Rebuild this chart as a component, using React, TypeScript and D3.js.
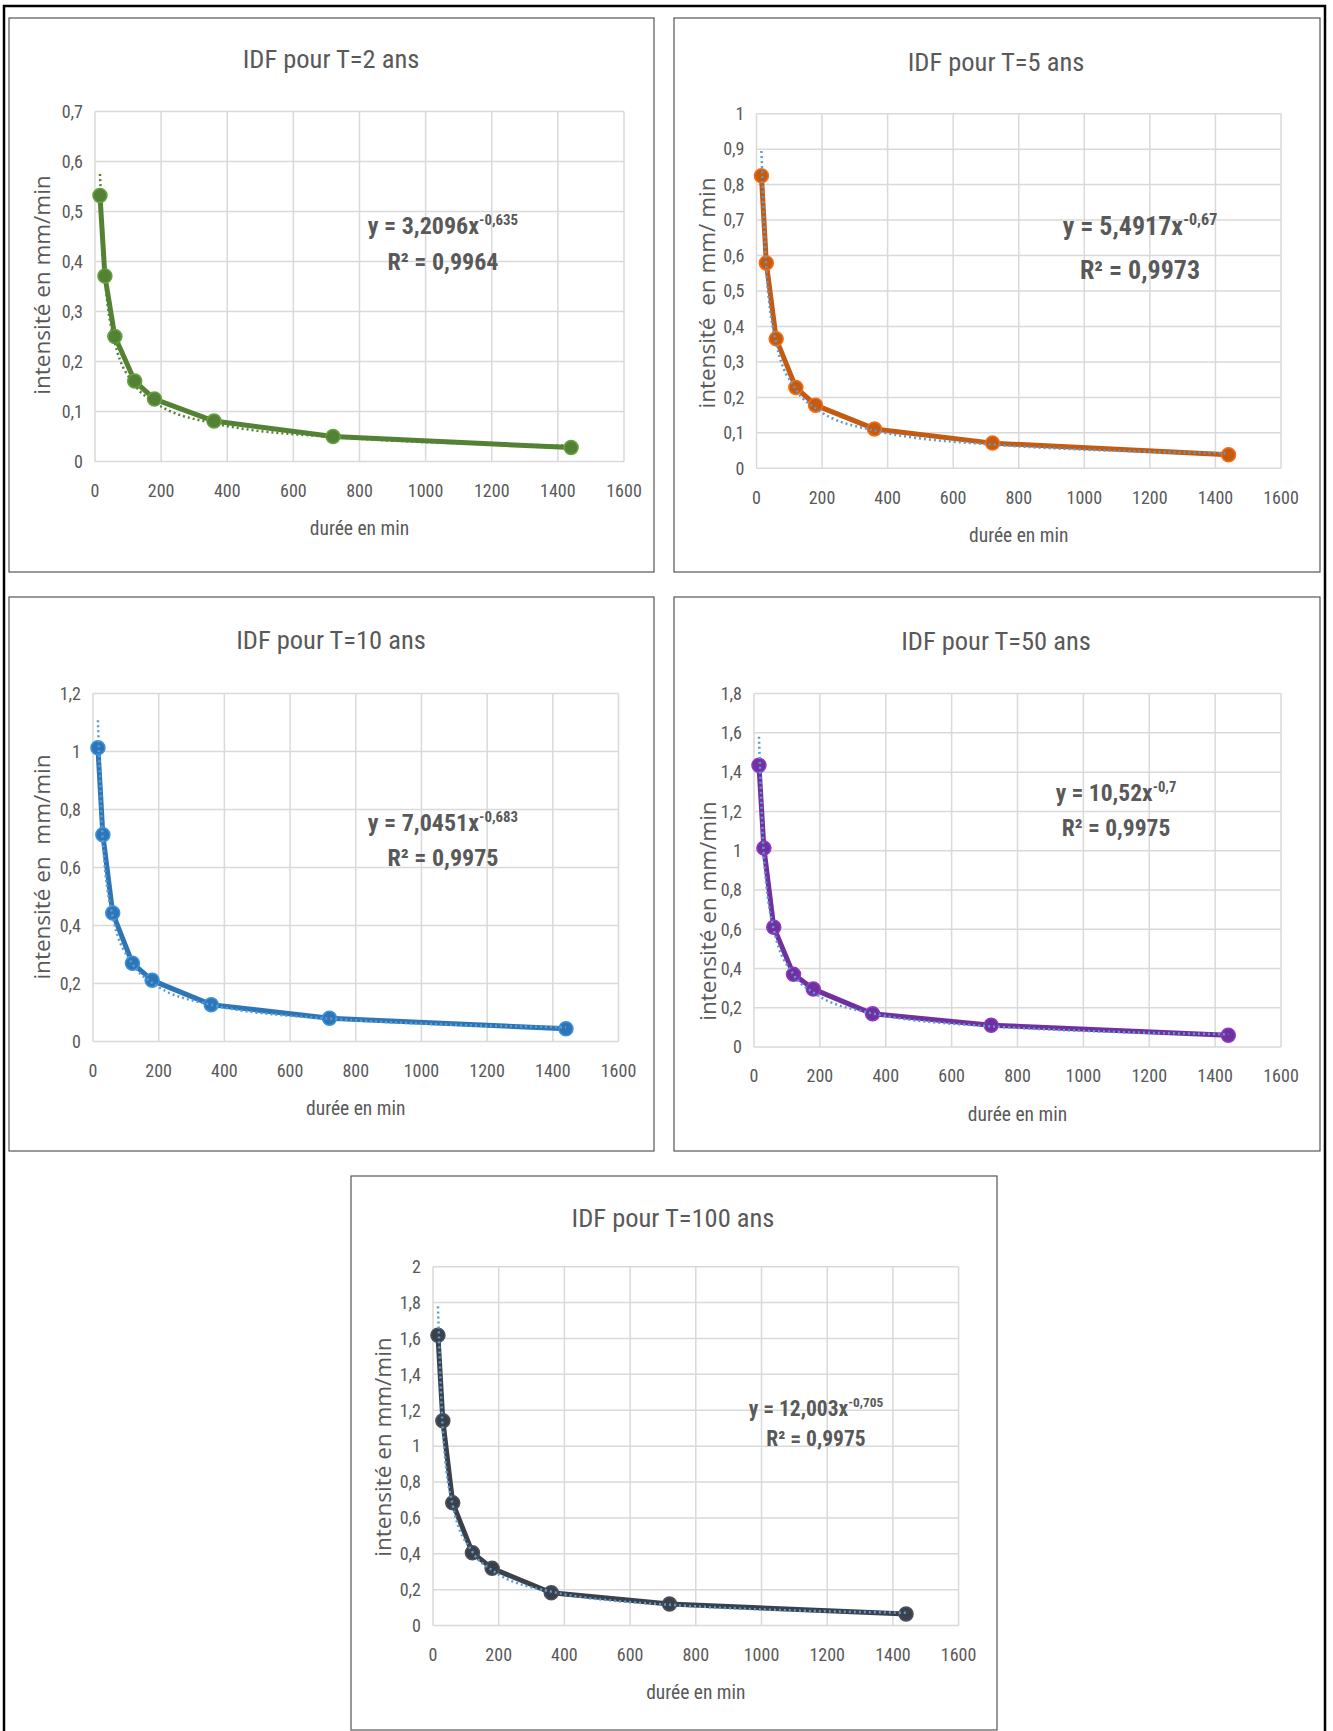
import React from 'react';
import * as d3 from 'd3';

const DURATIONS = [15, 30, 60, 120, 180, 360, 720, 1440];
const I_T2 = [0.532, 0.371, 0.25, 0.161, 0.125, 0.081, 0.05, 0.028];
const I_T5 = [0.825, 0.579, 0.365, 0.228, 0.178, 0.111, 0.071, 0.038];
const I_T10 = [1.013, 0.713, 0.443, 0.27, 0.211, 0.127, 0.08, 0.044];
const I_T50 = [1.435, 1.013, 0.61, 0.37, 0.295, 0.169, 0.111, 0.06];
const I_T100 = [1.618, 1.141, 0.684, 0.406, 0.319, 0.183, 0.12, 0.065];

const PERIODS = ['2', '5', '10', '50', '100'];
const FIT_A = [3.2096, 5.4917, 7.0451, 10.52, 12.003];
const FIT_B = [-0.635, -0.67, -0.683, -0.7, -0.705];
const R2 = ['0,9964', '0,9973', '0,9975', '0,9975', '0,9975'];
const Y_MAX = [0.7, 1, 1.2, 1.8, 2];
const Y_STEP = [0.1, 0.1, 0.2, 0.2, 0.2];
const X_TICKS = [0, 200, 400, 600, 800, 1000, 1200, 1400, 1600];
const Y_TITLES = [
  'intensité en mm/min',
  'intensité  en mm/ min',
  'intensité en  mm/min',
  'intensité en mm/min',
  'intensité en mm/min',
];

const SERIES = [I_T2, I_T5, I_T10, I_T50, I_T100];
const COLORS = ['#548235', '#C55A11', '#2E75B6', '#7030A0', '#3B414A'];
const TREND_COLORS = ['#548235', '#5B9BD5', '#5B9BD5', '#5B9BD5', '#5B9BD5'];

// placement of each chart box on the page
const LAYOUT = [
  { x: 9, y: 18, w: 645, h: 554, l: 86, r: 615, t: 93.5, b: 443.6, ty: 40.5, yx: 33, ycy: 267, ecx: 434, ey: 208, ry: 244, es: 24 },
  { x: 674, y: 18, w: 646, h: 554, l: 82.5, r: 607, t: 95.7, b: 450.3, ty: 44, yx: 33, ycy: 275, ecx: 466, ey: 208, ry: 251.5, es: 26 },
  { x: 9, y: 597, w: 645, h: 554, l: 84, r: 609.5, t: 96.6, b: 444.5, ty: 42.5, yx: 33, ycy: 270, ecx: 434, ey: 226, ry: 261, es: 24 },
  { x: 674, y: 597, w: 646, h: 554, l: 80, r: 607, t: 96.6, b: 450, ty: 43.5, yx: 34, ycy: 314, ecx: 442, ey: 196, ry: 231, es: 23.5 },
  { x: 351, y: 1176, w: 646, h: 554, l: 82, r: 607.6, t: 90.7, b: 449.6, ty: 42, yx: 32, ycy: 271, ecx: 465, ey: 232, ry: 262, es: 21.5 },
];

const NARROW = "'Liberation Sans Narrow', 'Arial Narrow', 'Roboto Condensed', sans-serif";
const WIDE = "'Open Sans', 'DejaVu Sans', sans-serif";
const TXT = '#595959';

const frLocale = d3.formatLocale({ decimal: ',', thousands: '', grouping: [3], currency: ['', ''] });
const fmtY = frLocale.format('.1~f');
const fmtCoef = (v: number) => String(v).replace('.', ',');

function Panel({ i }: { i: number }) {
  const L = LAYOUT[i];
  const data = SERIES[i];
  const x = d3.scaleLinear().domain([0, 1600]).range([L.l, L.r]);
  const y = d3.scaleLinear().domain([0, Y_MAX[i]]).range([L.b, L.t]);
  const yTicks = d3.range(0, Y_MAX[i] + Y_STEP[i] / 2, Y_STEP[i]);
  const pts = DURATIONS.map((d, k) => [d, data[k]] as [number, number]);
  const line = d3.line<[number, number]>().x(d => x(d[0])).y(d => y(d[1]));
  const trendPts = DURATIONS.map(d => [d, FIT_A[i] * Math.pow(d, FIT_B[i])] as [number, number]);
  const trend = d3.line<[number, number]>().x(d => x(d[0])).y(d => y(d[1])).curve(d3.curveMonotoneX);
  const es = L.es;

  return (
    <g transform={`translate(${L.x},${L.y})`}>
      <rect x={0} y={0} width={L.w} height={L.h} fill="#fff" stroke="#555" strokeWidth={1.2} />
      <text x={322} y={L.ty} dy="0.35em" textAnchor="middle" fontFamily={NARROW} fontSize={26.5} fill={TXT}>
        {`IDF pour T=${PERIODS[i]} ans`}
      </text>

      {/* grid */}
      {yTicks.map(v => (
        <line key={'gy' + v} x1={L.l} x2={L.r} y1={y(v)} y2={y(v)} stroke="#d9d9d9" strokeWidth={1.5} />
      ))}
      {X_TICKS.map(v => (
        <line key={'gx' + v} x1={x(v)} x2={x(v)} y1={L.t} y2={L.b} stroke="#d9d9d9" strokeWidth={1.5} />
      ))}

      {yTicks.map(v => (
        <text key={'ty' + v} x={L.l - 12} y={y(v)} dy="0.35em" textAnchor="end" fontFamily={NARROW} fontSize={18} fill={TXT}>
          {fmtY(v)}
        </text>
      ))}
      {X_TICKS.map(v => (
        <text key={'tx' + v} x={x(v)} y={L.b + 29} dy="0.35em" textAnchor="middle" fontFamily={NARROW} fontSize={18} fill={TXT}>
          {v}
        </text>
      ))}

      <text x={(L.l + L.r) / 2} y={L.b + 67} dy="0.35em" textAnchor="middle" fontFamily={NARROW} fontSize={19.5} fill={TXT}>
        durée en min
      </text>
      <text
        transform={`translate(${L.yx},${L.ycy}) rotate(-90)`}
        textAnchor="middle"
        dy="0.35em"
        fontFamily={WIDE}
        fontSize={22.5}
        fill={TXT}
        style={{ whiteSpace: 'pre' }}
      >
        {Y_TITLES[i]}
      </text>

      <path d={line(pts) || ''} fill="none" stroke={COLORS[i]} strokeWidth={5} strokeLinejoin="round" />
      {pts.map((p, k) => (
        <circle key={k} cx={x(p[0])} cy={y(p[1])} r={7} fill={COLORS[i]} stroke={d3.color(COLORS[i])!.brighter(0.6).toString()} strokeWidth={1.5} />
      ))}
      <path d={trend(trendPts) || ''} fill="none" stroke={TREND_COLORS[i]} strokeWidth={2.5} strokeDasharray="2,3" />

      <text x={L.ecx} y={L.ey} dy="0.35em" textAnchor="middle" fontFamily={NARROW} fontWeight="bold" fontSize={es} fill={TXT}>
        <tspan>{`y = ${fmtCoef(FIT_A[i])}x`}</tspan>
        <tspan dy={-es * 0.38} fontSize={es * 0.62}>{fmtCoef(FIT_B[i])}</tspan>
      </text>
      <text x={L.ecx} y={L.ry} dy="0.35em" textAnchor="middle" fontFamily={NARROW} fontWeight="bold" fontSize={es} fill={TXT}>
        {`R² = ${R2[i]}`}
      </text>
    </g>
  );
}

export default function App() {
  return (
    <svg width={1333} height={1731} style={{ position: 'absolute', left: 0, top: 0, background: '#fff' }}>
      <rect x={0} y={0} width={1333} height={1731} fill="#fff" />
      <path d="M4,1731 V6 H1325 V1731" fill="none" stroke="#000" strokeWidth={2.5} />
      {PERIODS.map((_, i) => (
        <Panel key={i} i={i} />
      ))}
    </svg>
  );
}
